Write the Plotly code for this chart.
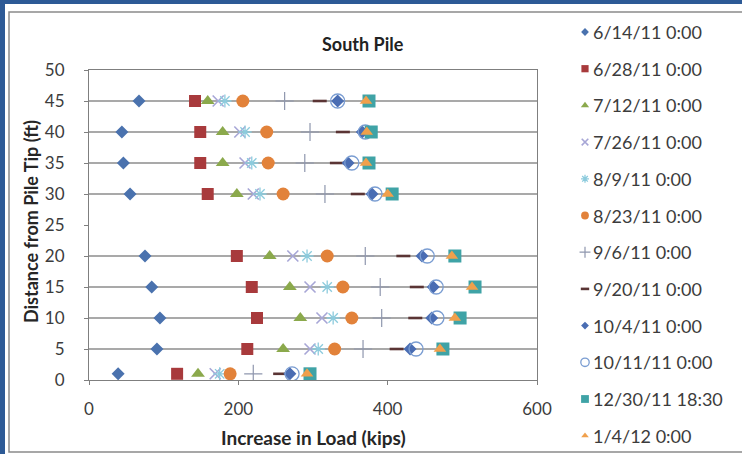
import plotly.graph_objects as go

# ---- data -------------------------------------------------------------
depths = [1, 5, 10, 15, 20, 30, 35, 40, 45]          # distance from pile tip (ft)
gauge_lines = [5, 10, 15, 20, 30, 35, 40, 45]         # reference lines at gauge levels

dates = ["6/14/11 0:00", "6/28/11 0:00", "7/12/11 0:00", "7/26/11 0:00",
         "8/9/11 0:00", "8/23/11 0:00", "9/6/11 0:00", "9/20/11 0:00",
         "10/4/11 0:00", "10/11/11 0:00", "12/30/11 18:30", "1/4/12 0:00"]

load_0614 = [39, 91, 95, 84, 75, 55, 46, 44, 67]
load_0628 = [118, 212, 225, 218, 198, 159, 149, 149, 142]
load_0712 = [146, 260, 283, 269, 242, 198, 179, 179, 159]
load_0726 = [169, 296, 312, 296, 273, 220, 209, 202, 173]
load_0809 = [175, 307, 327, 319, 292, 229, 218, 209, 182]
load_0823 = [189, 329, 352, 340, 319, 260, 240, 238, 206]
load_0906 = [220, 367, 392, 390, 370, 316, 289, 296, 262]
load_0920 = [256, 412, 437, 439, 421, 360, 332, 340, 309]
load_1004 = [269, 430, 459, 461, 446, 379, 347, 366, 333]
load_1011 = [272, 438, 466, 465, 453, 383, 352, 370, 333]
load_1230 = [296, 474, 497, 517, 490, 406, 375, 378, 375]
load_0104 = [292, 470, 490, 513, 486, 400, 371, 372, 371]

loads = [load_0614, load_0628, load_0712, load_0726, load_0809, load_0823,
         load_0906, load_0920, load_1004, load_1011, load_1230, load_0104]

# ---- styles -----------------------------------------------------------
# (symbol, colour, size, line width)
styles = [
    ("diamond", "#4A72AE", 10, 0),
    ("square", "#A83A3C", 12, 0),
    ("triangle-up", "#8BA94C", 12, 0),
    ("x-thin-open", "#A7A6D6", 11, 1.6),
    ("asterisk-open", "#8CCBDD", 11, 1.3),
    ("circle", "#E2823A", 13, 0),
    ("cross-thin-open", "#8F97AE", 13, 1.2),
    ("line-ew-open", "#5A3434", 10, 2.6),
    ("diamond", "#4A6DB3", 10, 0),
    ("circle-open", "#7A9DD2", 14, 1.3),
    ("square", "#3FA3A6", 13, 0),
    ("triangle-up", "#F0A04C", 11, 0),
]

W, H = 742, 454
FONT = "Lato"
TXT = "#3C3C3C"

# plot area in pixels
PX0, PX1, PY0, PY1 = 89, 537, 70, 380

fig = go.Figure()

# horizontal reference lines at each gauge level
lx, ly = [], []
for d in gauge_lines:
    lx += [0, 600, None]
    ly += [d, d, None]
fig.add_trace(go.Scatter(x=lx, y=ly, mode="lines",
                         line=dict(color="#8C8C8C", width=1.3),
                         showlegend=False, hoverinfo="skip"))

for name, vals, (sym, col, size, lw) in zip(dates, loads, styles):
    fig.add_trace(go.Scatter(
        x=vals, y=depths, mode="markers", name=name, showlegend=False,
        marker=dict(symbol=sym, size=size, color=col,
                    line=dict(color=col, width=lw)),
    ))

annotations = [
    dict(x=363, y=44, xref="x2", yref="y2", text="<b>South Pile</b>",
         showarrow=False, font=dict(family=FONT, size=18, color="#222222")),
    dict(x=(PX0 + PX1) / 2, y=437, xref="x2", yref="y2",
         text="<b>Increase in Load (kips)</b>", showarrow=False,
         font=dict(family=FONT, size=19, color="#262626")),
    dict(x=31, y=222, xref="x2", yref="y2", textangle=-90,
         xanchor="center", yanchor="middle",
         text="<b>Distance from Pile Tip (ft)</b>", showarrow=False,
         font=dict(family=FONT, size=18, color="#262626")),
]

# legend drawn on a full-page overlay axis (pixel coordinates)
leg_x, leg_y0, leg_dy = 585, 32, 36.7
for i, (name, (sym, col, size, lw)) in enumerate(zip(dates, styles)):
    y = leg_y0 + leg_dy * i
    fig.add_trace(go.Scatter(
        x=[leg_x], y=[y], xaxis="x2", yaxis="y2", mode="markers",
        showlegend=False, hoverinfo="skip",
        marker=dict(symbol=sym, size=max(6, size * 0.6), color=col,
                    line=dict(color=col, width=lw)),
    ))
    annotations.append(dict(x=leg_x + 6, y=y, xref="x2", yref="y2", text=name,
                            showarrow=False, xanchor="left", yanchor="middle",
                            font=dict(family=FONT, size=18, color=TXT)))

axis_common = dict(showline=True, linecolor="#7F7F7F", linewidth=1.2, mirror=True,
                   ticks="outside", ticklen=4, tickcolor="#7F7F7F",
                   showgrid=False, zeroline=False,
                   tickfont=dict(family=FONT, size=17, color=TXT))

fig.update_layout(
    width=W, height=H,
    margin=dict(l=0, r=0, t=0, b=0),
    paper_bgcolor="#2D5A96",
    plot_bgcolor="rgba(0,0,0,0)",
    xaxis=dict(domain=[PX0 / W, PX1 / W], range=[0, 600],
               tickvals=[0, 200, 400, 600], ticklabelstandoff=9,
               automargin=False, **axis_common),
    yaxis=dict(domain=[1 - PY1 / H, 1 - PY0 / H], range=[0, 50], dtick=5,
               ticklabelstandoff=16, automargin=False, **axis_common),
    xaxis2=dict(domain=[0, 1], range=[0, W], visible=False, anchor="y2",
                fixedrange=True),
    yaxis2=dict(domain=[0, 1], range=[H, 0], visible=False, anchor="x2",
                fixedrange=True),
    shapes=[
        dict(type="rect", xref="paper", yref="paper", layer="below",
             x0=5 / W, x1=1.01, y0=-0.01, y1=1 - 4 / H,
             fillcolor="white", line=dict(width=0)),
        dict(type="rect", xref="paper", yref="paper", layer="below",
             x0=9 / W, x1=1.01, y0=1 - 452 / H, y1=1 - 12 / H,
             fillcolor="rgba(0,0,0,0)", line=dict(color="#8A8A8A", width=1.5)),
    ],
    annotations=annotations,
)

fig.write_html("out.html")
